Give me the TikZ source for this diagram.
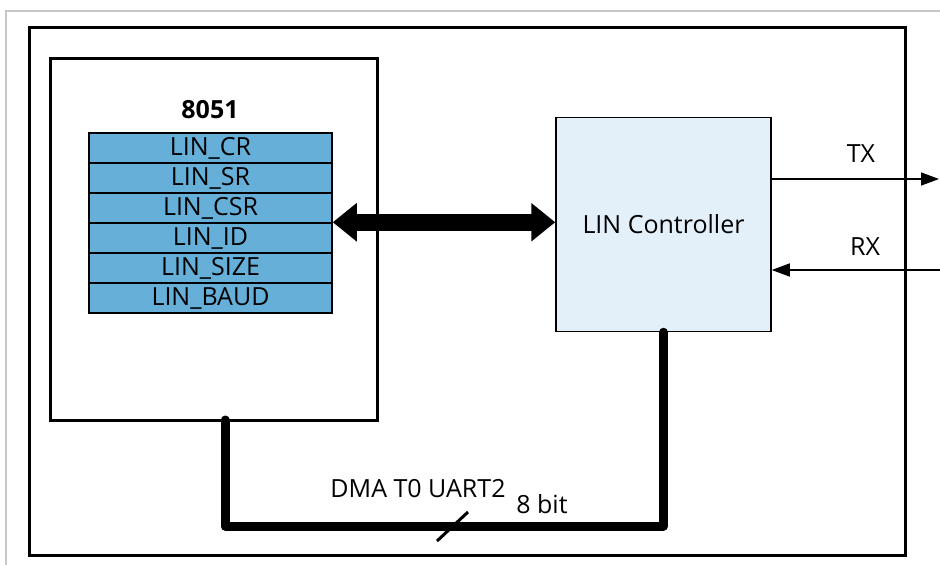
\documentclass[tikz,border=0pt]{standalone}
\usepackage{fontspec}
\setmainfont{Open Sans}
\usetikzlibrary{arrows.meta}
\definecolor{regblue}{HTML}{66AFD8}
\definecolor{ctrlblue}{HTML}{E3F0FA}
\definecolor{framegray}{HTML}{C8C8C8}
\begin{document}
\begin{tikzpicture}[x=1pt,y=-1pt,
font=\fontsize{25}{29}\selectfont,
chipblock/.style={draw,rectangle,line width=3pt,inner sep=0pt},
regrow/.style={draw,rectangle,fill=regblue,line width=1.5pt,minimum width=243pt,minimum height=30pt,inner sep=0pt},
bus/.style={line width=9pt,line cap=round,line join=round},
sig/.style={line width=1.5pt,-{Triangle[length=18pt,width=13pt]}}]

\useasboundingbox (0,0) rectangle (940,565);
\draw[framegray,line width=1.5pt] (6,565) -- (6,11) -- (940,11);

\draw (467,291.5) node[chipblock,minimum width=876pt,minimum height=528pt] (board) {};
\draw (213.5,239) node[chipblock,minimum width=327pt,minimum height=362pt] (mcu) {};
\draw (210,110) node (title) {\textbf{8051}};

\foreach \reg [count=\i] in {LIN\_CR,LIN\_SR,LIN\_CSR,LIN\_ID,LIN\_SIZE,LIN\_BAUD}
  \draw (210.5,118+30*\i) node[regrow] (r\i) {\reg};

\draw (663.5,224.5) node[draw,rectangle,fill=ctrlblue,line width=1.5pt,minimum width=215pt,minimum height=214pt] (ctrl) {LIN Controller};

\draw[line width=17pt,{Triangle[length=24pt,width=37pt]}-{Triangle[length=24pt,width=37pt]}] (r4.north east) -- (r4.north east -| ctrl.west);

\coordinate (txend) at (939,179);
\coordinate (rxend) at (940,270);
\draw[sig] (ctrl.east |- txend) -- (txend);
\draw[sig] (rxend) -- (ctrl.east |- rxend);
\draw (861,154) node {TX};
\draw (865,247) node {RX};

\coordinate (busturn) at (ctrl.south |- 0,526);
\draw[bus] (225,420) -- (225,526) -- (busturn) -- (ctrl.south);
\draw[line width=3pt] (437,541) -- (468,512);
\draw (418,489) node {DMA T0 UART2};
\draw (542,504) node {8 bit};

\end{tikzpicture}
\end{document}
